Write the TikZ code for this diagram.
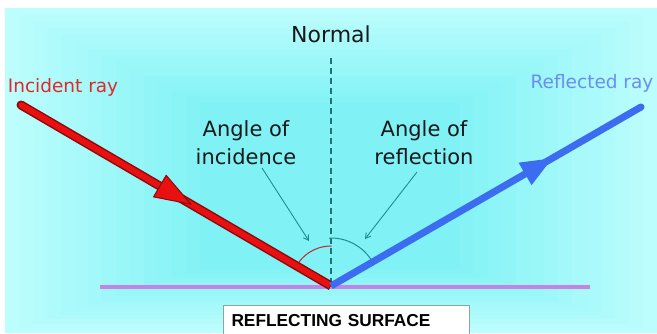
\documentclass[tikz,border=0pt]{standalone}
\usepackage{fontspec}
\setmainfont{DejaVu Sans}
\newfontfamily\boxfont{Liberation Sans}
\usetikzlibrary{calc,arrows.meta}
\definecolor{bgout}{HTML}{BCFDFD}
\definecolor{bgin}{HTML}{80F2F5}
\definecolor{rayred}{HTML}{E81010}
\definecolor{raydark}{HTML}{8A0A0A}
\definecolor{rayblue}{HTML}{3C6CF0}
\definecolor{lblred}{HTML}{E02828}
\definecolor{lblblue}{HTML}{6A8EF0}
\definecolor{pointer}{HTML}{238C8C}
\definecolor{normalc}{HTML}{1E7474}
\definecolor{surfc}{HTML}{C384EA}
\definecolor{boxgray}{HTML}{88A6A6}
\definecolor{arcred}{HTML}{B82828}
\tikzset{
  lbl/.style={inner sep=0pt, text=black!90},
  pointerline/.style={draw=pointer, line width=0.9pt, -{Straight Barb[length=5pt,width=6pt]}},
}
\begin{document}
\begin{tikzpicture}[x=1pt,y=1pt]
\useasboundingbox (0,0) rectangle (657,333);
\clip (0,0) rectangle (657,333);
\fill[white] (0,0) rectangle (657,333);
% background bands
\foreach \i in {0,...,14} {
  \pgfmathtruncatemacro\t{\i*100/14}
  \fill[bgin!\t!bgout] ({5+\i*13.9}, {0+\i*4.6}) rectangle ({657-\i*14.1}, {325-\i*6.8});
}
% coordinates
\coordinate (A) at (21,228);
\coordinate (O) at (331,47);
\coordinate (R) at (641,226);
\coordinate (N) at (331,275);
\coordinate (S1) at (100,46);
\coordinate (S2) at (590,46);
% surface
\draw[surfc, line width=4pt] (S1) -- (S2);
% normal
\draw[normalc, line width=1.2pt, dash pattern=on 6pt off 4pt] (N) -- (O);
% arcs
\draw[arcred, line width=1pt] ($(O)+(150:40)$) arc[start angle=150, end angle=95, radius=40] -- ++(4,0);
\draw[pointer, line width=1pt] ($(O)+(90:48)+(-2,0)$) -- ++(2,0) arc[start angle=90, end angle=33, radius=48];
% labels
\node[lbl, font=\fontsize{22}{26}\selectfont] (normal) at (331,299) {Normal};
\node[lbl, text=lblred, font=\fontsize{18.5}{22}\selectfont] (inc) at (63,246) {Incident ray};
\node[lbl, text=lblblue, font=\fontsize{18.5}{22}\selectfont] (refl) at (592,250) {Reflected ray};
\node[lbl, align=center, font=\fontsize{21}{28}\selectfont] (ai) at (246,190) {Angle of\\incidence};
\node[lbl, align=center, font=\fontsize{21}{28}\selectfont] (ar) at (424,190) {Angle of\\reflection};
% pointers
\coordinate (p1s) at (262,165);
\coordinate (p1e) at (309,92);
\coordinate (p2s) at (417,161);
\coordinate (p2e) at (365,94);
\draw[pointerline] (p1s) -- (p1e);
\draw[pointerline] (p2s) -- (p2e);
% incident ray
\draw[raydark, line width=9pt, line cap=butt] (A) -- (O);
\fill[raydark] (A) circle[radius=4.5];
\draw[rayred, line width=6pt, line cap=butt] (A) -- ($(O)!1pt!(A)$);
\fill[rayred] ($(A)!0.5pt!(O)$) circle[radius=3];
\coordinate (it) at ($(A)!0.548!(O)$);
\coordinate (ib) at ($(A)!0.448!(O)$);
\filldraw[fill=rayred, draw=raydark, line width=1pt, line join=round] (it) -- ($(ib)!12.5pt!90:(O)$) -- ($(ib)!12.5pt!-90:(O)$) -- cycle;
% reflected ray
\draw[rayblue, line width=7pt, line cap=butt] (O) -- (R);
\fill[rayblue] (R) circle[radius=3.5];
\coordinate (rt) at ($(O)!0.713!(R)$);
\coordinate (rb) at ($(O)!0.626!(R)$);
\fill[rayblue] (rt) -- ($(rb)!13pt!90:(R)$) -- ($(rb)!13pt!-90:(R)$) -- cycle;
% box
\node[draw=boxgray, line width=1pt, fill=white, anchor=north west, minimum height=31pt,
      text width=230pt, inner xsep=8pt, align=left,
      font=\boxfont\bfseries\fontsize{17.3}{20}\selectfont] (surf) at (223,28) {REFLECTING SURFACE};
\end{tikzpicture}
\end{document}
